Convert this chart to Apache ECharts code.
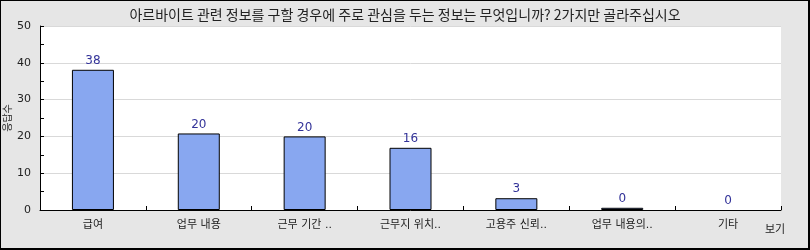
<!DOCTYPE html>
<html><head><meta charset="utf-8">
<script src="https://cdn.jsdelivr.net/npm/echarts@6/dist/echarts.min.js"></script>
<style>
html,body{margin:0;padding:0;background:#e6e6e6;}
#c{position:absolute;left:0;top:0;width:810px;height:250px;}
#frame{position:absolute;left:0;top:0;width:807px;height:247px;border-left:1px solid #000;border-top:1px solid #000;border-right:2px solid #000;border-bottom:2px solid #000;pointer-events:none;}
</style></head>
<body>
<div id="c"></div><div id="frame"></div>
<script>
const titleText = '아르바이트 관련 정보를 구할 경우에 주로 관심을 두는 정보는 무엇입니까? 2가지만 골라주십시오';
const categories = ['급여', '업무 내용', '근무 기간 ..', '근무지 위치..', '고용주 신뢰..', '업무 내용의..', '기타'];
const barValues = [38.1, 20.8, 20.0, 16.9, 3.2, 0.6, 0];
const valueLabels = [38, 20, 20, 16, 3, 0, 0];
const yTicks = {min: 0, max: 50, interval: 10};
const yName = '응답수';
const xName = '보기';

const FONT = 'DejaVu Sans, "Noto Sans CJK KR", sans-serif';
const chart = echarts.init(document.getElementById('c'), null, {renderer: 'canvas'});
chart.setOption({
  backgroundColor: '#e6e6e6',
  animation: false,
  title: {
    text: titleText, left: 'center', top: 3,
    textStyle: {fontFamily: '"Noto Sans CJK KR", sans-serif', fontSize: 14, fontWeight: 'normal', color: '#222'}
  },
  grid: {left: 40, right: 29, top: 26, bottom: 40, show: true, backgroundColor: '#fff', borderWidth: 0,
         containLabel: false, outerBoundsMode: 'none'},
  xAxis: {
    type: 'category', data: categories,
    name: xName, nameLocation: 'end', nameGap: -16, nameMoveOverlap: false,
    nameTextStyle: {fontFamily: FONT, fontSize: 11, color: '#222', align: 'left', verticalAlign: 'top', padding: [15, 0, 0, 0]},
    axisLine: {show: true, lineStyle: {color: '#000', width: 1}},
    axisTick: {show: true, inside: true, length: 4, lineStyle: {color: '#000'}},
    axisLabel: {fontFamily: FONT, fontSize: 11, color: '#222', margin: 10},
    splitLine: {show: false}
  },
  yAxis: {
    type: 'value', min: yTicks.min, max: yTicks.max, interval: yTicks.interval,
    name: yName, nameLocation: 'middle', nameGap: 27, nameRotate: 90, nameMoveOverlap: false,
    nameTextStyle: {fontFamily: FONT, fontSize: 10, color: '#222'},
    axisLine: {show: true, lineStyle: {color: '#000', width: 1}},
    axisTick: {show: true, inside: true, length: 4, lineStyle: {color: '#000'}},
    minorTick: {show: true, splitNumber: 2, length: 4, lineStyle: {color: '#000'}},
    axisLabel: {fontFamily: FONT, fontSize: 11, color: '#222', margin: 9},
    splitLine: {show: true, lineStyle: {color: '#d9d9d9', width: 1}}
  },
  series: [{
    type: 'bar',
    data: barValues.map(v => v === 0 ? {value: v, itemStyle: {borderWidth: 0}} : v),
    barWidth: 42,
    itemStyle: {color: '#88a7f0', borderColor: '#000', borderWidth: 1},
    label: {
      show: true, position: 'top', distance: 3,
      fontFamily: FONT, fontSize: 12, color: '#333399',
      formatter: p => String(valueLabels[p.dataIndex])
    }
  }]
});
</script>
</body></html>
